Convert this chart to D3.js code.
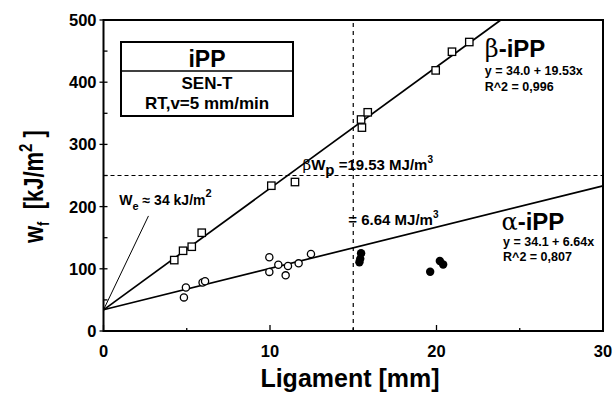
<!DOCTYPE html>
<html>
<head>
<meta charset="utf-8">
<script src="https://cdn.jsdelivr.net/npm/d3@7"></script>
<style>
	body { margin: 0; background: #fff; }
	text { font-family: "Liberation Sans", Arial, Helvetica, sans-serif; font-weight: bold; fill: #000; }
	.greek { font-family: "DejaVu Serif", "Liberation Serif", serif; font-weight: normal; }
</style>
</head>
<body>
<div id="chart"></div>
<script>
// beta-iPP (open squares)
const betaX = [4.25, 4.78, 5.3, 5.9, 10.08, 11.5, 15.47, 15.87, 15.52, 19.95, 20.93, 21.97];
const betaY = [114, 129, 135.5, 158, 233.6, 239.5, 340, 351.6, 327, 419, 449, 464.6];
// alpha-iPP (open circles, used in fit)
const alphaX = [4.83, 4.95, 5.95, 6.1, 9.96, 9.96, 10.5, 10.94, 11.08, 11.72, 12.46];
const alphaY = [54, 70, 78, 80, 118.5, 95, 106.6, 89.5, 104.5, 108.8, 123.8];
// alpha-iPP (filled circles, beyond 15 mm)
const alphaOutX = [15.37, 15.42, 15.47, 19.62, 20.2, 20.4];
const alphaOutY = [110.5, 116, 125, 95.3, 112.5, 107];

// linear fits  y = a + b*x
const betaFit = [34.0, 19.53];
const alphaFit = [34.1, 6.64];

const xTicks = [0, 10, 20, 30];
const yTicks = [0, 100, 200, 300, 400, 500];
const xMinor = [5, 15, 25];
const yMinor = [50, 150, 250, 350, 450];

var margin = {top: 20, right: 12, bottom: 63, left: 103.5},
	width = 615 - margin.left - margin.right,
	height = 394 - margin.top - margin.bottom;

var x = d3.scaleLinear().domain([0, 30]).range([0, width]);
var y = d3.scaleLinear().domain([0, 500]).range([height, 0]);

var svg = d3.select("#chart").append("svg")
	.attr("width", 615)
	.attr("height", 394);

var chart = svg.append("g")
	.attr("transform", "translate(" + margin.left + "," + margin.top + ")");

// dashed guides at 15 mm and 250 kJ/m2
chart.append("line")
	.attr("x1", x(15)).attr("x2", x(15))
	.attr("y1", y(0)).attr("y2", y(500))
	.attr("stroke", "#000").attr("stroke-width", 1.2)
	.attr("stroke-dasharray", "4,4");
chart.append("line")
	.attr("x1", x(0)).attr("x2", x(30))
	.attr("y1", y(250)).attr("y2", y(250))
	.attr("stroke", "#000").attr("stroke-width", 1.2)
	.attr("stroke-dasharray", "4,3");

// fit lines, clipped at the top of the frame
function fitLine(fit) {
	var xEnd = Math.min(30, (500 - fit[0]) / fit[1]);
	return [[0, fit[0]], [xEnd, fit[0] + fit[1] * xEnd]];
}
var line = d3.line().x(d => x(d[0])).y(d => y(d[1]));

[betaFit, alphaFit].forEach(f => {
	chart.append("path")
		.attr("d", line(fitLine(f)))
		.attr("fill", "none")
		.attr("stroke", "#000")
		.attr("stroke-width", 1.7);
});

// leader line for w_e
chart.append("line")
	.attr("x1", x(0)).attr("y1", y(34))
	.attr("x2", x(2.7)).attr("y2", y(185))
	.attr("stroke", "#000").attr("stroke-width", 1);

// markers
chart.selectAll(".sq")
	.data(betaX.map((d, i) => [d, betaY[i]]))
	.enter().append("rect")
	.attr("x", d => x(d[0]) - 3.7)
	.attr("y", d => y(d[1]) - 3.7)
	.attr("width", 7.4).attr("height", 7.4)
	.attr("fill", "#fff").attr("stroke", "#000").attr("stroke-width", 1.3);

chart.selectAll(".oc")
	.data(alphaX.map((d, i) => [d, alphaY[i]]))
	.enter().append("circle")
	.attr("cx", d => x(d[0])).attr("cy", d => y(d[1]))
	.attr("r", 3.6)
	.attr("fill", "#fff").attr("stroke", "#000").attr("stroke-width", 1.3);

chart.selectAll(".fc")
	.data(alphaOutX.map((d, i) => [d, alphaOutY[i]]))
	.enter().append("circle")
	.attr("cx", d => x(d[0])).attr("cy", d => y(d[1]))
	.attr("r", 4.2)
	.attr("fill", "#000");

// frame
chart.append("rect")
	.attr("width", width).attr("height", height)
	.attr("fill", "none").attr("stroke", "#000").attr("stroke-width", 2);

// ticks
chart.selectAll(".xt").data(xTicks).enter().append("line")
	.attr("x1", d => x(d)).attr("x2", d => x(d))
	.attr("y1", height).attr("y2", height - 6)
	.attr("stroke", "#000").attr("stroke-width", 1.3);
chart.selectAll(".xm").data(xMinor).enter().append("line")
	.attr("x1", d => x(d)).attr("x2", d => x(d))
	.attr("y1", height).attr("y2", height - 3)
	.attr("stroke", "#000").attr("stroke-width", 1.3);
chart.selectAll(".yt").data(yTicks).enter().append("line")
	.attr("x1", -4).attr("x2", 4)
	.attr("y1", d => y(d)).attr("y2", d => y(d))
	.attr("stroke", "#000").attr("stroke-width", 1.3);
chart.selectAll(".ym").data(yMinor).enter().append("line")
	.attr("x1", 0).attr("x2", 4)
	.attr("y1", d => y(d)).attr("y2", d => y(d))
	.attr("stroke", "#000").attr("stroke-width", 1.3);

// tick labels
chart.selectAll(".xl").data(xTicks).enter().append("text")
	.attr("x", d => x(d)).attr("y", height + 26)
	.attr("text-anchor", "middle")
	.style("font-size", "16.5px")
	.text(d => d);
chart.selectAll(".yl").data(yTicks).enter().append("text")
	.attr("x", -7).attr("y", d => y(d) + 6)
	.attr("text-anchor", "end")
	.style("font-size", "16.5px")
	.text(d => d);

// axis titles
svg.append("text")
	.attr("x", 350).attr("y", 387)
	.attr("text-anchor", "middle")
	.style("font-size", "25px")
	.text("Ligament [mm]");

var yt = svg.append("text")
	.attr("transform", "translate(43,243) rotate(-90) scale(1,1.25)")
	.style("font-size", "22px");
yt.append("tspan").text("w");
yt.append("tspan").attr("dy", 5).style("font-size", "13px").text("f");
yt.append("tspan").attr("dy", -5).text("\u00a0\u00a0[kJ/m");
yt.append("tspan").attr("dy", -9).style("font-size", "15px").text("2");
yt.append("tspan").attr("dy", 9).text("\u00a0]");

// legend box
var box = svg.append("g").attr("transform", "translate(121,42)");
box.append("rect")
	.attr("width", 172).attr("height", 74)
	.attr("fill", "#fff").attr("stroke", "#000").attr("stroke-width", 2);
box.append("line")
	.attr("x1", 0).attr("x2", 172).attr("y1", 29).attr("y2", 29)
	.attr("stroke", "#000").attr("stroke-width", 1.5);
box.append("text").attr("x", 86).attr("y", 25).attr("text-anchor", "middle")
	.style("font-size", "23px").text("iPP");
box.append("text").attr("x", 86).attr("y", 47).attr("text-anchor", "middle")
	.style("font-size", "17px").text("SEN-T");
box.append("text").attr("x", 86).attr("y", 67).attr("text-anchor", "middle")
	.style("font-size", "17px").text("RT,v=5 mm/min");

// series labels and fit equations
function label(px, py, size, str) {
	return chart.append("text")
		.attr("x", x(px)).attr("y", y(py))
		.style("font-size", size + "px")
		.text(str);
}
function seriesLabel(px, py, greek) {
	var t = label(px, py, 24, "");
	t.append("tspan").attr("class", "greek").text(greek);
	t.append("tspan").text("-iPP");
}
seriesLabel(22.9, 440.5, "\u03b2");
label(22.9, 411.6, 12.5, "y = 34.0 + 19.53x");
label(22.9, 386.5, 12.5, "R^2 = 0,996");
seriesLabel(23.9, 162, "\u03b1");
label(24.0, 136.5, 12.5, "y = 34.1 + 6.64x");
label(24.0, 113, 12.5, "R^2 = 0,807");

// plastic work annotations
var bw = label(11.95, 259, 15, "");
bw.append("tspan").attr("class", "greek").text("\u03b2");
bw.append("tspan").text("W");
bw.append("tspan").attr("dy", 5).text("p");
bw.append("tspan").attr("dy", -5).text(" =19.53 MJ/m");
bw.append("tspan").attr("dy", -7).style("font-size", "10px").text("3");

var aw = label(14.7, 170, 15, "= 6.64 MJ/m");
aw.append("tspan").attr("dy", -7).style("font-size", "10px").text("3");

var we = label(0.95, 203, 14, "W");
we.append("tspan").attr("dy", 5).style("font-size", "11px").text("e");
we.append("tspan").attr("dy", -5).text(" \u2248 34 kJ/m");
we.append("tspan").attr("dy", -8).style("font-size", "11px").text("2");
</script>
</body>
</html>
